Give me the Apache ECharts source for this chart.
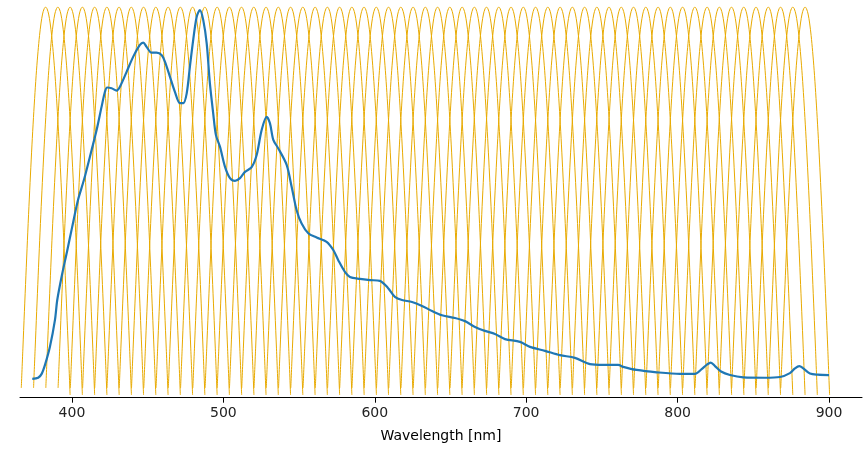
<!DOCTYPE html>
<html>
<head>
<meta charset="utf-8">
<script src="https://cdn.jsdelivr.net/npm/echarts@6/dist/echarts.min.js"></script>
<style>html,body{margin:0;padding:0;background:#fff}#chart{width:863px;height:450px}</style>
</head>
<body>
<div id="chart"></div>
<script>
// Filter band centre wavelengths (nm), read from the peaks
var filterCenters = [382.6,390.7,398.8,406.9,415.0,423.1,431.1,439.2,447.3,455.4,
  463.5,471.6,479.7,487.8,495.9,504.0,512.0,520.1,528.2,536.3,
  544.4,552.5,560.6,568.7,576.8,584.9,592.9,601.0,609.1,617.2,
  625.3,633.4,641.5,649.6,657.7,665.8,673.8,681.9,690.0,698.1,
  706.2,714.3,722.4,730.5,738.6,746.7,754.7,762.8,770.9,779.0,
  787.1,795.2,803.3,811.4,819.5,827.6,835.6,843.7,851.8,859.9,
  868.0,876.1,884.2];
var bandOffsets = [-16.05,-15,-14,-13,-12,-11,-10,-9,-8,-7,-6,-5,-4,-3,-2,-1,0,
  1,2,3,4,5,6,7,8,9,10,11,12,13,14,15,16.2];
var bandValues = [0.025,0.125,0.220,0.312,0.403,0.489,0.570,0.647,0.717,0.781,0.838,0.886,0.927,0.959,0.982,0.995,1.0,
  0.995,0.982,0.959,0.927,0.886,0.838,0.781,0.717,0.647,0.570,0.489,0.403,0.312,0.220,0.125,0.007];
// Spectrum (blue line)
var specWavelength = [373.8,377.7,380.0,382.2,385.5,388.8,390.3,393.4,396.7,400.0,404.0,407.9,413.0,416.3,419.6,421.8,423.3,426.2,429.5,431.7,
  436.1,440.5,444.9,447.1,449.3,452.6,455.9,459.2,461.4,464.7,468.0,471.3,473.5,475.8,477.9,480.1,482.4,484.5,486.7,489.0,
  491.1,493.3,495.1,497.8,501.1,504.4,507.7,511.0,514.3,518.7,522.0,525.3,528.6,530.8,533.0,536.3,541.8,545.1,548.4,551.7,
  556.1,561.6,568.2,572.6,575.9,580.3,583.6,590.2,596.8,603.4,608.7,613.3,618.0,624.6,631.2,637.8,644.4,653.0,659.6,666.2,
  672.8,679.4,686.0,695.9,702.5,712.4,722.3,732.2,742.1,750.9,760.8,764.1,773.0,786.2,801.6,811.5,815.9,819.2,821.9,824.7,
  828.7,834.6,843.4,857.7,867.6,874.2,877.5,880.4,883.0,887.4,892.7,900.0];
var specValue = [0.048,0.051,0.061,0.084,0.131,0.199,0.250,0.314,0.373,0.434,0.506,0.557,0.634,0.685,0.745,0.783,0.794,0.792,0.786,0.796,
  0.834,0.873,0.903,0.909,0.898,0.883,0.883,0.877,0.860,0.822,0.783,0.754,0.754,0.779,0.847,0.916,0.975,0.992,0.967,0.907,
  0.805,0.728,0.672,0.642,0.591,0.562,0.555,0.562,0.578,0.590,0.621,0.685,0.719,0.702,0.660,0.638,0.596,0.540,0.480,0.446,
  0.421,0.410,0.399,0.378,0.352,0.322,0.309,0.304,0.301,0.299,0.281,0.258,0.250,0.245,0.235,0.222,0.211,0.204,0.196,0.181,
  0.171,0.163,0.150,0.143,0.130,0.120,0.109,0.102,0.086,0.084,0.084,0.079,0.071,0.065,0.061,0.061,0.073,0.084,0.090,0.081,
  0.067,0.058,0.052,0.051,0.053,0.063,0.075,0.081,0.075,0.062,0.059,0.058];
var tickValues = [400,500,600,700,800,900];
var xLabel = 'Wavelength [nm]';

var series = [];
filterCenters.forEach(function(c){
  var d = bandOffsets.map(function(o,i){ return [c + o, bandValues[i]]; });
  series.push({type:'line', data:d, symbol:'none', smooth:0.3, silent:true,
    lineStyle:{color:'#e8aa00', width:1}, z:2});
});
series.push({type:'line', data:specWavelength.map(function(w,i){return [w, specValue[i]];}),
  symbol:'none', smooth:0.3, lineStyle:{color:'#1f77b4', width:2.2}, z:5});

var chart = echarts.init(document.getElementById('chart'), null, {renderer:'canvas'});
chart.setOption({
  animation:false,
  backgroundColor:'#fff',
  grid:{left:20, right:1, top:7, bottom:52.3, containLabel:false},
  xAxis:{type:'value', min:365.7, max:921.8,
    name:xLabel, nameLocation:'middle', nameGap:32,
    nameTextStyle:{fontFamily:'DejaVu Sans', fontSize:14, color:'#000'},
    axisLine:{show:true, onZero:false, lineStyle:{color:'#000', width:1}},
    axisTick:{show:true, length:5, inside:false, customValues:tickValues, lineStyle:{color:'#000', width:1}},
    axisLabel:{customValues:tickValues, margin:9, fontFamily:'DejaVu Sans', fontSize:14, color:'#222'},
    splitLine:{show:false}},
  yAxis:{type:'value', min:0, max:1, show:false, splitLine:{show:false}},
  series:series
});
</script>
</body>
</html>
